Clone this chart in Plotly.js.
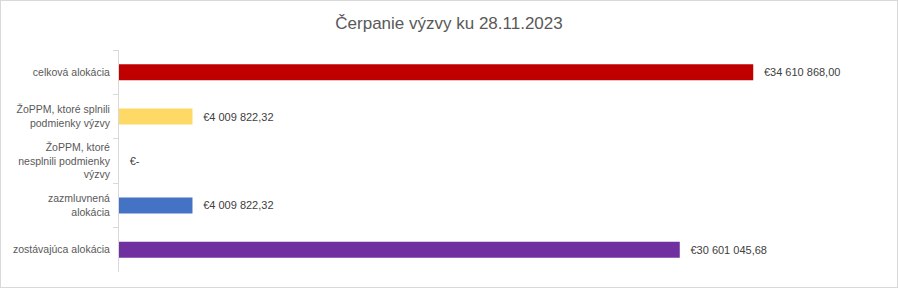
<!DOCTYPE html>
<html>
<head>
<meta charset="utf-8">
<script src="https://cdn.plot.ly/plotly-3.0.1.min.js"></script>
<style>
  html, body { margin: 0; padding: 0; background: #fff; }
  #wrap { position: relative; width: 898px; height: 288px; }
  #chart { width: 898px; height: 288px; }
  #frame { position: absolute; left: 0; top: 0; width: 898px; height: 288px;
           box-sizing: border-box; border: 1px solid #d9d9d9; pointer-events: none; }
</style>
</head>
<body>
<div id="wrap">
  <div id="chart"></div>
  <div id="frame"></div>
</div>
<script>
// Categories, top to bottom
const categories = [
  "celková alokácia",
  "ŽoPPM, ktoré splnili<br>podmienky výzvy",
  "ŽoPPM, ktoré<br>nesplnili podmienky<br>výzvy",
  "zazmluvnená<br>alokácia",
  "zostávajúca alokácia"
];
// Amounts in EUR
const amounts = [34610868.00, 4009822.32, 0, 4009822.32, 30601045.68];
const barColors = ["#C00000", "#FFD966", "#FFFFFF", "#4472C4", "#7030A0"];

// Accounting-style euro label: "€4 009 822,32", zero shown as "€-"
function euro(v) {
  if (v === 0) return "€-";
  const parts = v.toFixed(2).split(".");
  const intPart = parts[0].replace(/\B(?=(\d{3})+(?!\d))/g, " ");
  return "€" + intPart + "," + parts[1];
}
// leading spaces keep the label a little away from the bar end
const labels = amounts.map(v => "\u2002\u2009" + euro(v));

const trace = {
  type: "bar",
  orientation: "h",
  y: categories,
  x: amounts,
  marker: { color: barColors },
  text: labels,
  textposition: "outside",
  cliponaxis: false,
  textfont: { family: "Liberation Sans, Arial, sans-serif", size: 11, color: "#404040" },
  hoverinfo: "none"
};

const layout = {
  width: 898,
  height: 288,
  margin: { l: 119, r: 46, t: 50, b: 16 },
  paper_bgcolor: "#ffffff",
  plot_bgcolor: "#ffffff",
  title: {
    text: "Čerpanie výzvy ku 28.11.2023",
    font: { family: "Liberation Sans, Arial, sans-serif", size: 17, color: "#595959" },
    x: 0.5, xanchor: "center", y: 0.92, yanchor: "middle"
  },
  showlegend: false,
  bargap: 0.64,
  xaxis: {
    range: [0, 40000000],
    visible: false,
    fixedrange: true
  },
  yaxis: {
    autorange: "reversed",
    tickson: "boundaries",
    ticks: "outside",
    ticklen: 5,
    tickcolor: "#d9d9d9",
    showline: true,
    linecolor: "#d9d9d9",
    linewidth: 1,
    showgrid: false,
    zeroline: false,
    tickfont: { family: "Liberation Sans, Arial, sans-serif", size: 10.5, color: "#595959" },
    ticklabelstandoff: 6,
    fixedrange: true
  }
};

Plotly.newPlot("chart", [trace], layout, { displayModeBar: false, staticPlot: true });
</script>
</body>
</html>
